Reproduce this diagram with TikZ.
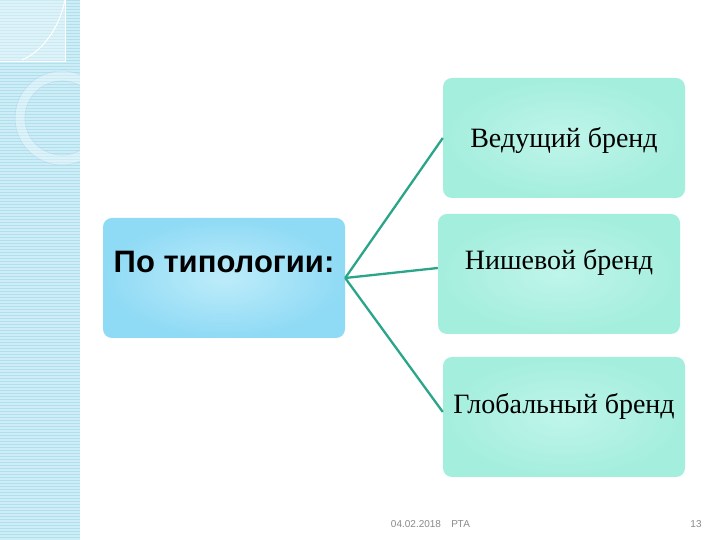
\documentclass[tikz,border=0pt]{standalone}
\usepackage{fontspec}
\usetikzlibrary{positioning}
\setmainfont{Liberation Serif}
\newfontfamily\arialf{Liberation Sans}
\definecolor{stripebg}{HTML}{CDEEF6}
\definecolor{stripeln}{HTML}{B2DFEC}
\definecolor{leftin}{HTML}{BDECFA}
\definecolor{leftout}{HTML}{8FDAF5}
\definecolor{aquain}{HTML}{BFF5EA}
\definecolor{aquaout}{HTML}{A4EEDD}
\definecolor{linkcol}{HTML}{2AA58A}
\definecolor{footcol}{HTML}{8A8A8A}
\tikzset{
  brandbox/.style={rounded corners=9pt, inner color=aquain, outer color=aquaout,
    minimum width=242pt, minimum height=120pt, inner sep=0pt},
  typbox/.style={rounded corners=9pt, inner color=leftin, outer color=leftout,
    minimum width=242pt, minimum height=120pt, inner sep=0pt},
  brandtxt/.style={font=\fontsize{28}{32}\selectfont, inner sep=0pt},
  link/.style={linkcol, line width=2.3pt},
  foot/.style={font=\arialf\fontsize{10}{11}\selectfont, text=footcol, inner sep=0pt}
}
\begin{document}
\begin{tikzpicture}[x=1pt, y=1pt]
    \useasboundingbox (0,0) rectangle (720,540);
    \fill[white] (0,0) rectangle (720,540);
    % left stripe
    \fill[stripebg] (0,0) rectangle (80,540);
    \foreach \y in {0,3,...,540} {
        \draw[stripeln, line width=0.6pt] (0,\y) -- (80,\y);
    }
    \fill[white, opacity=0.35] (0,478) rectangle (65,540);
    \draw[white, line width=1pt] (0,478) -- (65,478) -- (65,540);
    \draw[white, line width=1pt] (22,480) .. controls (45,490) and (60,515) .. (65,540);
    \begin{scope}
        \clip (0,0) rectangle (80,540);
        \draw[white, opacity=0.35, line width=9pt] (62,422) circle (42);
        \draw[stripeln!80!blue!60, opacity=0.5, line width=0.6pt] (62,422) circle (47);
        \draw[stripeln!80!blue!60, opacity=0.5, line width=0.6pt] (62,422) circle (37);
    \end{scope}
    % boxes
    \node[typbox] (typ) at (224,262) {};
    \node[brandbox] (lead) at (564,402) {};
    \node[brandbox] (niche) at (559,266) {};
    \node[brandbox] (glob) at (564,123) {};
    % texts
    \node[font=\arialf\bfseries\fontsize{31}{34}\selectfont, inner sep=0pt] (typtxt)
        at ([yshift=16pt]typ.center) {По типологии:};
    \node[brandtxt] (leadtxt) at ([yshift=-3pt]lead.center) {Ведущий бренд};
    \node[brandtxt] (nichetxt) at ([yshift=12pt]niche.center) {Нишевой бренд};
    \node[brandtxt] (globtxt) at ([yshift=11pt]glob.center) {Глобальный бренд};
    % connectors
    \draw[link] (typ.east) -- (lead.west);
    \draw[link] (typ.east) -- ([yshift=6pt]niche.west);
    \draw[link] (typ.east) -- ([yshift=5pt]glob.west);
    % footer
    \node[foot] (date) at (416,16) {04.02.2018};
    \node[foot, right=10pt of date] (org) {РТА};
    \node[foot] (page) at (696,16) {13};
\end{tikzpicture}
\end{document}
